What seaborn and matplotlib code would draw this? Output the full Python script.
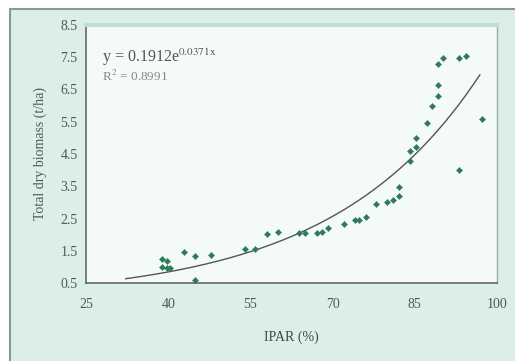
import numpy as np
import pandas as pd
import matplotlib
matplotlib.use("Agg")
import matplotlib.pyplot as plt
from matplotlib.patches import Rectangle
import seaborn as sns

# data
ipar = [38.9, 39.7, 38.9, 39.7, 40.4, 42.8, 44.9, 47.8, 44.9, 54.0, 55.9,
        58.0, 60.1, 63.9, 65.0, 67.1, 68.0, 69.2, 72.0, 74.0, 74.9, 76.1,
        78.0, 80.0, 81.1, 82.1, 82.1, 84.1, 84.1, 85.2, 85.2, 87.2, 88.1,
        89.2, 89.2, 89.2, 90.2, 93.1, 94.3, 93.1, 97.2]
biomass = [1.25, 1.17, 1.01, 0.97, 0.97, 1.45, 1.35, 1.36, 0.58, 1.56, 1.56,
           2.01, 2.07, 2.06, 2.04, 2.06, 2.09, 2.21, 2.32, 2.44, 2.44, 2.56,
           2.95, 3.01, 3.08, 3.20, 3.49, 4.29, 4.60, 4.71, 4.99, 5.45, 5.99,
           6.30, 6.64, 7.29, 7.47, 7.49, 7.54, 4.00, 5.59]
fit_a = 0.1912
fit_b = 0.0371
fit_r2 = 0.8991
x_ticks = [25, 40, 55, 70, 85, 100]
y_ticks = [0.5, 1.5, 2.5, 3.5, 4.5, 5.5, 6.5, 7.5, 8.5]

df = pd.DataFrame({"IPAR": ipar, "biomass": biomass})
xfit = np.linspace(32.2, 96.9, 200)
fit = pd.DataFrame({"IPAR": xfit, "biomass": fit_a * np.exp(fit_b * xfit)})

sns.set_style("white")
plt.rcParams["font.family"] = ["Liberation Serif", "DejaVu Serif"]
plt.rcParams["mathtext.fontset"] = "stix"

fig = plt.figure(figsize=(5.15, 3.61), dpi=100)
fig.patch.set_facecolor("white")
# mint panel behind the chart (only left and top border show)
fig.patches.append(Rectangle((10 / 515, -0.1), 1.2, 1.1 - 9 / 361, transform=fig.transFigure,
                             facecolor="#dcefe7", edgecolor="#8a9a92", linewidth=1.5,
                             zorder=-10))

ax = fig.add_axes([86 / 515, 1 - 283 / 361, (497 - 86) / 515, (283 - 25) / 361])
ax.set_zorder(5)
ax.set_facecolor("#f3faf7")

sns.lineplot(data=fit, x="IPAR", y="biomass", color="#555555", linewidth=1.0, ax=ax)
sns.scatterplot(data=df, x="IPAR", y="biomass", marker="D", s=10, color="#2f7a5a",
                edgecolor="#2f7a5a", linewidth=0.3, ax=ax, zorder=3)

ax.set_xlim(25, 100)
ax.set_ylim(0.5, 8.5)
ax.set_xticks(x_ticks)
ax.set_yticks(y_ticks)
ax.set_yticklabels([str(v) for v in y_ticks])
ax.tick_params(axis="both", direction="inout", length=5, width=0.8, colors="#888888",
               labelcolor="#555555", labelsize=10)
ax.tick_params(axis="x", pad=8)

for side in ["left", "bottom"]:
    ax.spines[side].set_color("#666666")
    ax.spines[side].set_linewidth(1.2)
ax.spines["top"].set_color("#bfe0d2")
ax.spines["top"].set_linewidth(3)
ax.spines["right"].set_color("#a0a8a4")
ax.spines["right"].set_linewidth(1.0)

ax.set_xlabel("IPAR (%)", fontsize=10, color="#444444", labelpad=14)
ax.set_ylabel("Total dry biomass (t/ha)", fontsize=10, color="#555555", labelpad=10)

ax.text(0.04, 0.875, r"y = %.4fe$^{\mathrm{%.4fx}}$" % (fit_a, fit_b), transform=ax.transAxes,
        fontsize=11.5, color="#555555", va="center")
ax.text(0.04, 0.80, r"R$^{\mathrm{2}}$ = %.4f" % fit_r2, transform=ax.transAxes,
        fontsize=9.5, color="#888888", va="center")

fig.savefig("out.png", dpi=100)
